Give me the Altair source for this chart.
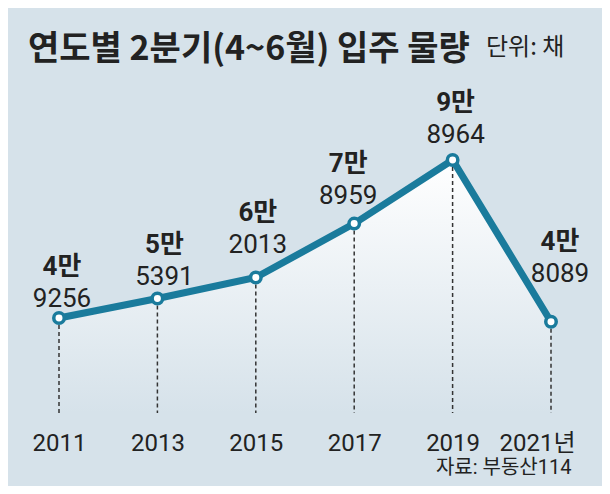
import pandas as pd
import altair as alt

# values
years = [2011, 2013, 2015, 2017, 2019, 2021]
units = [49256, 55391, 62013, 78959, 98964, 48089]

title_text = "연도별 2분기(4~6월) 입주 물량"
unit_text = "단위: 채"
source_text = "자료: 부동산114"

# label nudges per point (pixels)
label_dx = [3, 7, 2, -6, 3, 9]
label_dy = [-11, -14, -24, -20, -17, -40]

BG = "#d6e2ea"
TEAL = "#1a7b9c"
INK = "#222222"
NUM_FONT = "Roboto, Noto Sans CJK KR, sans-serif"
KR_FONT = "Noto Sans CJK KR"

Y_MIN, Y_MAX = 19400, 121600

df = pd.DataFrame({"year": years, "units": units})
df["man"] = (df["units"] // 10000).astype(str) + "만"
df["rest"] = (df["units"] % 10000).astype(str)

x_axis = alt.Axis(
    values=years,
    labelExpr="datum.value == 2021 ? datum.value + '년' : '' + datum.value",
    labelFont=NUM_FONT,
    labelFontSize=24,
    labelColor=INK,
    labelBaseline="alphabetic",
    labelPadding=37,
    labelFlush=False,
    labelOverlap=False,
    labelOffset={"condition": {"test": "datum.value == 2021", "value": -14}, "value": 0},
    ticks=False,
    tickSize=0,
    domain=False,
    grid=False,
    title=source_text,
    titleFont=NUM_FONT,
    titleFontSize=20,
    titleFontWeight="normal",
    titleColor=INK,
    titleAlign="right",
    titleBaseline="alphabetic",
    titleX=512,
    titleY=60,
)

base = alt.Chart(df).encode(
    x=alt.X("year:Q", scale=alt.Scale(domain=[years[0], years[-1]]), axis=x_axis),
    y=alt.Y("units:Q", scale=alt.Scale(domain=[Y_MIN, Y_MAX]), axis=None),
)

fade = alt.Gradient(
    gradient="linear",
    stops=[alt.GradientStop(color="#ffffff", offset=0),
           alt.GradientStop(color=BG, offset=1)],
    x1=1, x2=1, y1=0, y2=1,
)

area = base.mark_area(color=fade).encode(y2=alt.datum(Y_MIN))
rules = base.mark_rule(strokeDash=[4, 3], strokeWidth=1.5, color="#333333").encode(
    y2=alt.datum(Y_MIN)
)
line = base.mark_line(color=TEAL, strokeWidth=7)
points = base.mark_point(
    shape="circle", filled=True, fill="white", stroke=TEAL,
    strokeWidth=3.5, size=110, opacity=1
)

layers = [area, rules, line, points]

for yr, dx, dy in zip(years, label_dx, label_dy):
    sub = base.transform_filter(alt.datum.year == yr)
    layers.append(sub.mark_text(
        font=NUM_FONT, fontSize=26, fontWeight="bold", color=INK,
        baseline="alphabetic", dx=dx, dy=dy - 32
    ).encode(text="man:N"))
    layers.append(sub.mark_text(
        font=NUM_FONT, fontSize=26, color=INK,
        baseline="alphabetic", dx=dx, dy=dy
    ).encode(text="rest:N"))

title = alt.Chart(pd.DataFrame({"t": [title_text]})).mark_text(
    font=KR_FONT, fontSize=34, fontWeight="bold", color=INK,
    align="left", baseline="alphabetic"
).encode(text="t:N", x=alt.value(-31), y=alt.value(-28))

unit = alt.Chart(pd.DataFrame({"t": [unit_text]})).mark_text(
    font=KR_FONT, fontSize=24, color=INK,
    align="left", baseline="alphabetic"
).encode(text="t:N", x=alt.value(427), y=alt.value(-33))

chart = alt.layer(*layers, title, unit).properties(
    width=492,
    height=325,
    padding={"left": 51, "right": 51, "top": 80, "bottom": 73},
    autosize=alt.AutoSizeParams(type="none"),
    background=BG,
).configure_view(stroke=None)

chart.save("out.html", embed_options={"renderer": "svg", "actions": False})
